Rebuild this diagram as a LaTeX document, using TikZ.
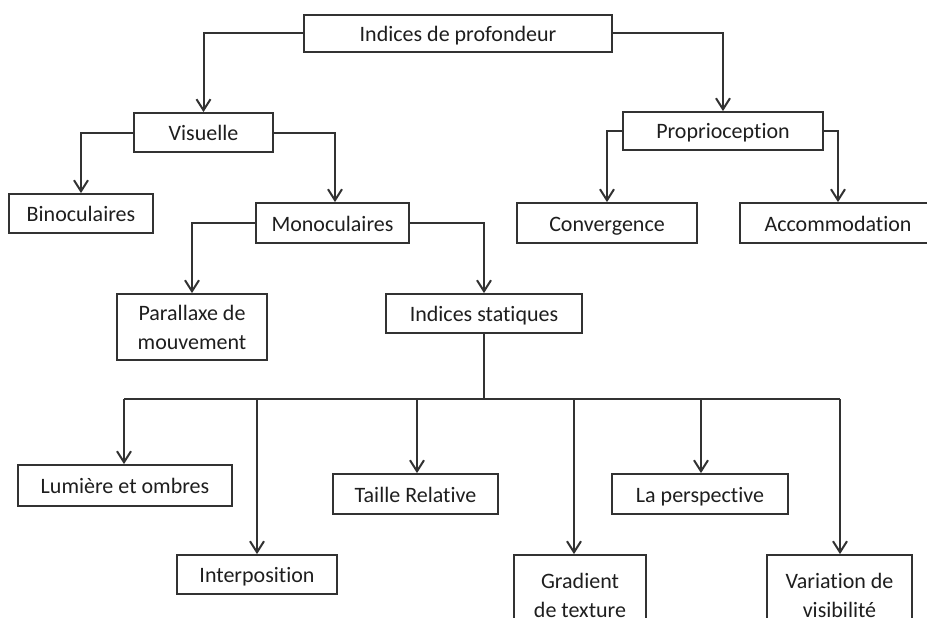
\documentclass[tikz,border=0pt]{standalone}
\usepackage{fontspec}
\setmainfont[Ligatures={NoCommon,NoRequired,NoContextual}]{Carlito}
\usepackage{tikz}
\usetikzlibrary{arrows.meta, calc}

\definecolor{trait}{RGB}{50,50,50}
\definecolor{texte}{RGB}{30,30,30}

\tikzset{
	boite/.style={draw=trait, line width=1.8pt, rectangle, inner sep=0pt, align=center,
		text=texte, font=\fontsize{22}{29}\selectfont},
	ligne1/.style={text height=18pt, text depth=2pt},
	fleche/.style={draw=trait, line width=2pt, -{Straight Barb[length=11pt, width=14pt]}},
	ligne/.style={draw=trait, line width=2pt}
}

\begin{document}
\begin{tikzpicture}[x=1pt, y=-1pt]
				\useasboundingbox (0, 0) rectangle (927, 618);
				\clip (0, 0) rectangle (927, 618);
				
				% niveau 1 et 2
				\node[boite, ligne1, minimum width=308, minimum height=37] (T) at (458, 33.5) {Indices de profondeur};
				\node[boite, ligne1, minimum width=139, minimum height=39] (V) at (203.5, 132.5) {Visuelle};
				\node[boite, ligne1, minimum width=200, minimum height=38] (P) at (723, 131) {Proprioception};
				
				\node[boite, ligne1, minimum width=144, minimum height=39] (B) at (81, 213.5) {Binoculaires};
				\node[boite, ligne1, minimum width=153, minimum height=40] (M) at (332.5, 223) {Monoculaires};
				\node[boite, ligne1, minimum width=180, minimum height=40] (C) at (607, 223) {Convergence};
				\node[boite, ligne1, minimum width=196, minimum height=40] (A) at (838, 223) {Accommodation};
				
				\node[boite, minimum width=150, minimum height=66] (PM) at (192, 327) {Parallaxe de\\mouvement};
				\node[boite, ligne1, minimum width=196, minimum height=39] (S) at (484, 313.5) {Indices statiques};
				
				% indices statiques
				\node[boite, ligne1, minimum width=214, minimum height=41] (L) at (125, 485.5) {Lumière et ombres};
				\node[boite, ligne1, minimum width=160, minimum height=39] (I) at (257, 574.5) {Interposition};
				\node[boite, ligne1, minimum width=165, minimum height=40] (TR) at (415.5, 494) {Taille Relative};
				\node[boite, minimum width=132, minimum height=80] (G) at (580, 595) {Gradient\\de texture};
				\node[boite, ligne1, minimum width=176, minimum height=40] (LP) at (700, 494) {La perspective};
				\node[boite, minimum width=145, minimum height=80] (VV) at (839.5, 595) {Variation de\\visibilité};
				
				\draw[fleche] (T.west) -| (V.north);
				\draw[fleche] (T.east) -| (P.north);
				\draw[fleche] (V.west) -| (B.north);
				\draw[fleche] (V.east) -| ($(M.north)+(2.5, 0)$);
				\draw[fleche] (P.west) -| (C.north);
				\draw[fleche] (P.east) -| (A.north);
				\draw[fleche] (M.west) -| (PM.north);
				\draw[fleche] (M.east) -| (S.north);
				
				% barre de distribution
				\coordinate (b1) at (124, 399);
				\coordinate (b2) at (257, 399);
				\coordinate (b3) at (417, 399);
				\coordinate (b4) at (574, 399);
				\coordinate (b5) at (701, 399);
				\coordinate (b6) at (840, 399);
				\draw[ligne] (S.south) |- (b1);
				\draw[ligne] (S.south|-b1) -- (b6);
				
				\draw[fleche] (b1) -- (b1|-L.north);
				\draw[fleche] (b2) -- (b2|-I.north);
				\draw[fleche] (b3) -- (b3|-TR.north);
				\draw[fleche] (b4) -- (b4|-G.north);
				\draw[fleche] (b5) -- (b5|-LP.north);
				\draw[fleche] (b6) -- (b6|-VV.north);
			\end{tikzpicture}
\end{document}
